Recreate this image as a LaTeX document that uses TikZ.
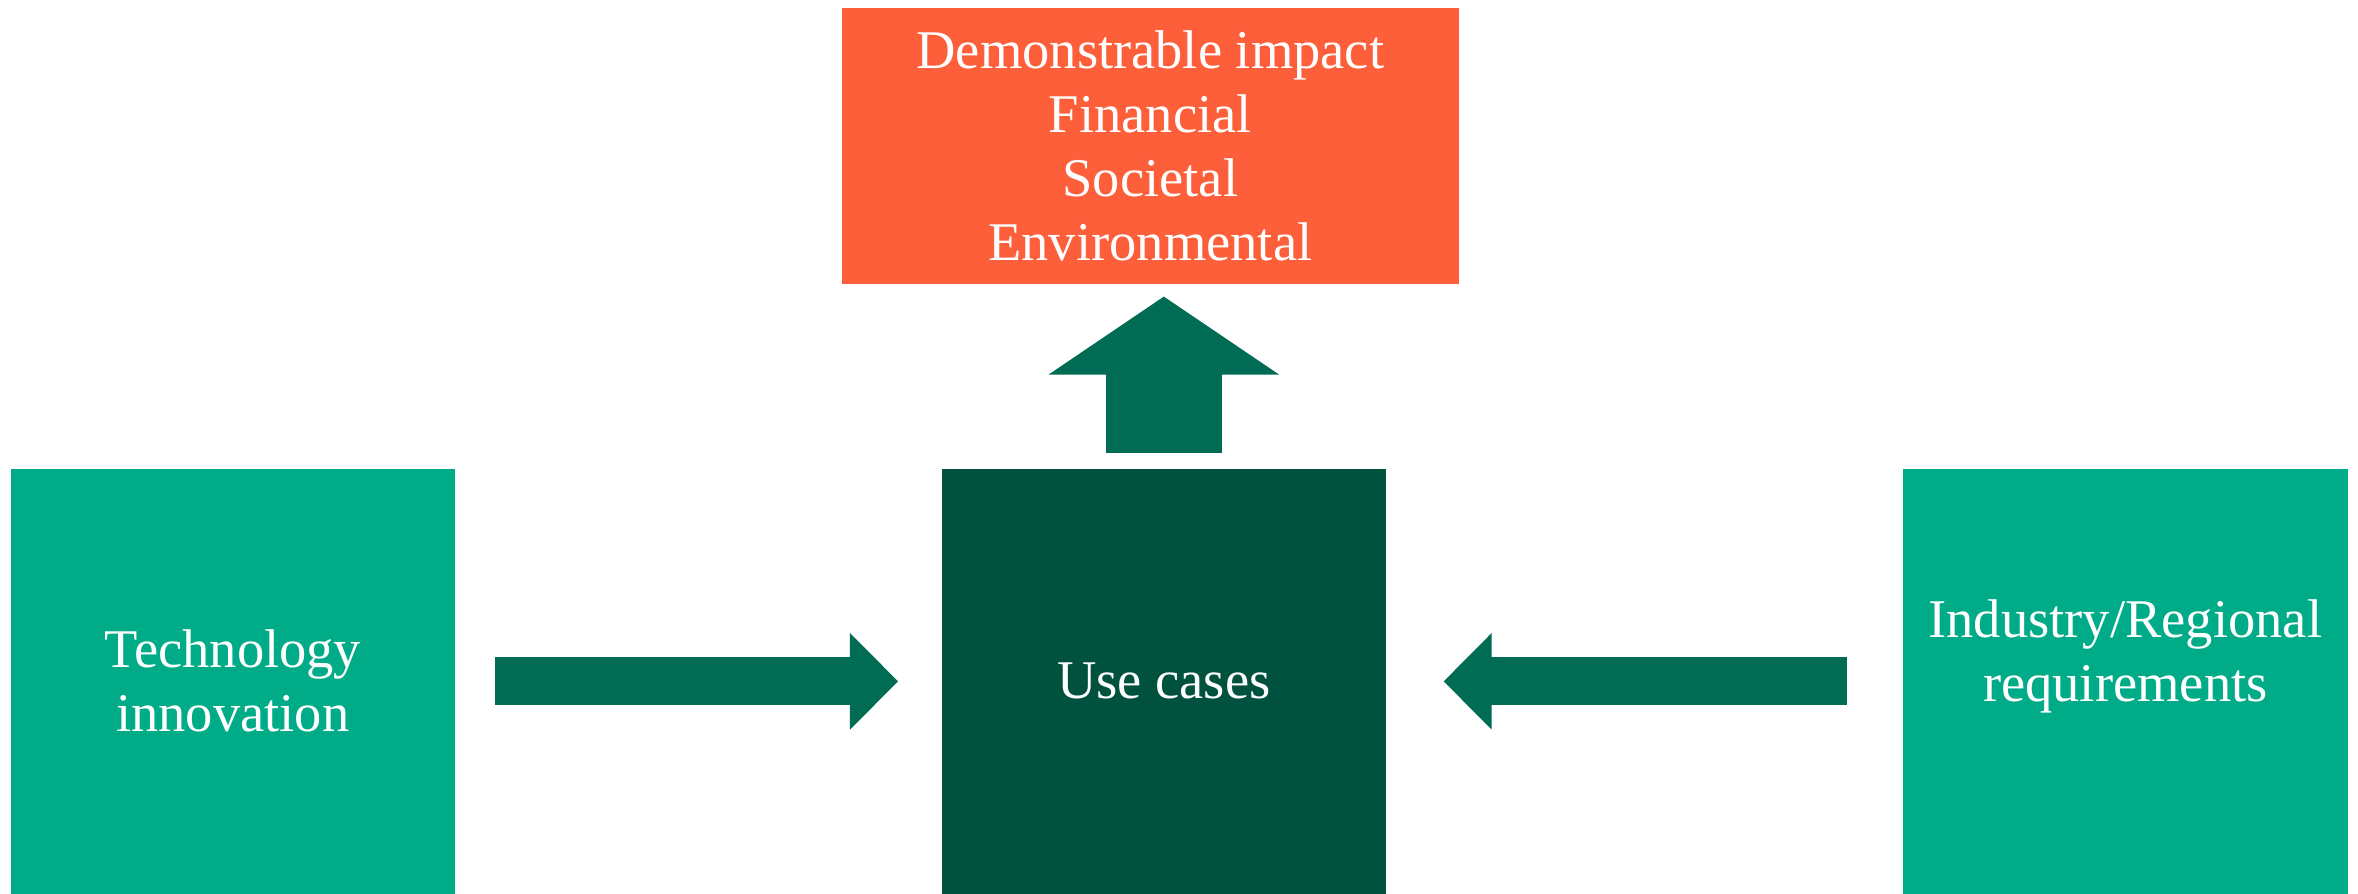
\documentclass[tikz,border=0pt]{standalone}
\usepackage{xcolor}
\usepackage{tikz}
\usepackage{fontspec}
\setmainfont{Liberation Serif}
\usetikzlibrary{arrows.meta,positioning}
\definecolor{ImpactOrange}{HTML}{FC5F3A}
\definecolor{DriverTeal}  {HTML}{00AC88}
\definecolor{CaseGreen}   {HTML}{00523F}
\definecolor{ArrowGreen}  {HTML}{006C54}

\tikzset{
  boxtext/.style={text=white,font=\fontsize{15.5}{18.2}\selectfont,align=center},
  panel/.style={boxtext,anchor=north west,inner sep=0pt,minimum height=4.25cm},
  blockarrow/.style={draw=ArrowGreen,line width=0.48cm,
    -{Triangle[line width=1pt,length=0.48cm,width=0.96cm]}},
}

\begin{document}
\begin{tikzpicture}[x=0.01cm,y=-0.01cm]
  \useasboundingbox (0,0) rectangle (2358,893);
  % outcome box on top
  \node[boxtext,fill=ImpactOrange,anchor=north west,inner sep=0pt,
        minimum width=6.17cm,minimum height=2.76cm] (impact) at (841,7)
    {Demonstrable impact\\Financial\\Societal\\Environmental};
  % the three panels
  \node[panel,fill=DriverTeal,minimum width=4.44cm] (tech) at (10,468)
    {Technology\\innovation};
  \node[panel,fill=CaseGreen,minimum width=4.44cm] (cases) at (941,468)
    {Use cases};
  \node[panel,fill=DriverTeal,minimum width=4.45cm] (reqs) at (1902,468) {};
  \node[boxtext] (reqstext) at ([yshift=0.25cm]reqs.center)
    {Industry/Regional\\requirements};
  % arrows
  \draw[blockarrow,shorten <=0.39cm,shorten >=0.43cm] (tech) -- (cases);
  \draw[blockarrow,shorten <=0.55cm,shorten >=0.57cm] (reqs) -- (cases);
  \draw[blockarrow,line width=1.16cm,
        -{Triangle[line width=1pt,length=0.78cm,width=2.3cm]},
        shorten <=0.15cm,shorten >=0.12cm]
    (cases.north) -- (cases.north |- impact.south);
\end{tikzpicture}
\end{document}
